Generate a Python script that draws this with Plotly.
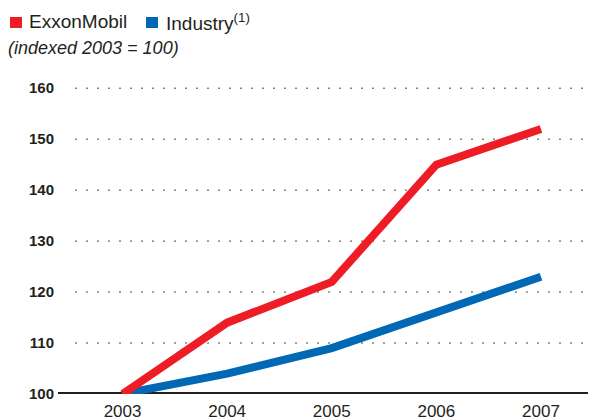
import plotly.graph_objects as go

years = [2003, 2004, 2005, 2006, 2007]
exxon = [100, 114, 122, 145, 152]
industry = [100, 104, 109, 116, 123]
y_ticks = [100, 110, 120, 130, 140, 150, 160]

RED = "#EE1C25"
BLUE = "#0068B5"
INK = "#231F20"
FONT = "Liberation Sans, Arial, sans-serif"

W, H = 588, 412
L, R, T, B = 50, 0, 70, 26
PW, PH = W - L - R, H - T - B


def px(fx):
    return (fx - L) / PW


def py(fy):
    return (H - B - fy) / PH


fig = go.Figure()
# dotted gridlines
for t in y_ticks[1:]:
    fig.add_shape(type="line", xref="paper", yref="y", x0=px(67), x1=px(583), y0=t, y1=t,
                  line=dict(color="#444444", width=1, dash="2px,9px"), layer="below")
# baseline
fig.add_shape(type="line", xref="paper", yref="y", x0=0, x1=1, y0=100, y1=100,
              line=dict(color=INK, width=4), layer="below")

fig.add_trace(go.Scatter(x=years, y=industry, mode="lines",
                         line=dict(color=BLUE, width=8), showlegend=False))
fig.add_trace(go.Scatter(x=years, y=exxon, mode="lines",
                         line=dict(color=RED, width=8), showlegend=False))

# legend squares
fig.add_shape(type="rect", xref="paper", yref="paper", x0=px(2), x1=px(14), y0=py(20), y1=py(9),
              fillcolor=RED, line=dict(width=0))
fig.add_shape(type="rect", xref="paper", yref="paper", x0=px(138), x1=px(150), y0=py(20), y1=py(9),
              fillcolor=BLUE, line=dict(width=0))

annotations = [
    dict(xref="paper", yref="paper", x=px(19), y=py(14), xanchor="left", yanchor="middle",
         showarrow=False, text="ExxonMobil", font=dict(size=19, family=FONT, color=INK)),
    dict(xref="paper", yref="paper", x=px(156), y=py(14), xanchor="left", yanchor="middle",
         showarrow=False, text="Industry<sup>(1)</sup>", font=dict(size=19, family=FONT, color=INK)),
    dict(xref="paper", yref="paper", x=px(-2), y=py(40), xanchor="left", yanchor="middle",
         showarrow=False, text="<i>(indexed 2003 = 100)</i>", font=dict(size=18, family=FONT, color=INK)),
]

fig.update_layout(
    width=W, height=H,
    margin=dict(l=L, r=R, t=T, b=B),
    paper_bgcolor="white", plot_bgcolor="white",
    font=dict(family=FONT, color=INK),
    showlegend=False,
    xaxis=dict(range=[2002.383, 2007.526], tickvals=years, ticktext=[str(y) for y in years],
               showgrid=False, zeroline=False, showline=False, ticks="",
               ticklabelstandoff=5,
               tickfont=dict(size=17, color=INK)),
    yaxis=dict(range=[100, 162], tickvals=y_ticks,
               ticktext=[f"<b>{t}</b>" for t in y_ticks],
               showgrid=False, zeroline=False, showline=False, ticks="",
               ticklabelstandoff=3,
               tickfont=dict(size=15, color=INK)),
    annotations=annotations,
)

fig.write_html("out.html")
